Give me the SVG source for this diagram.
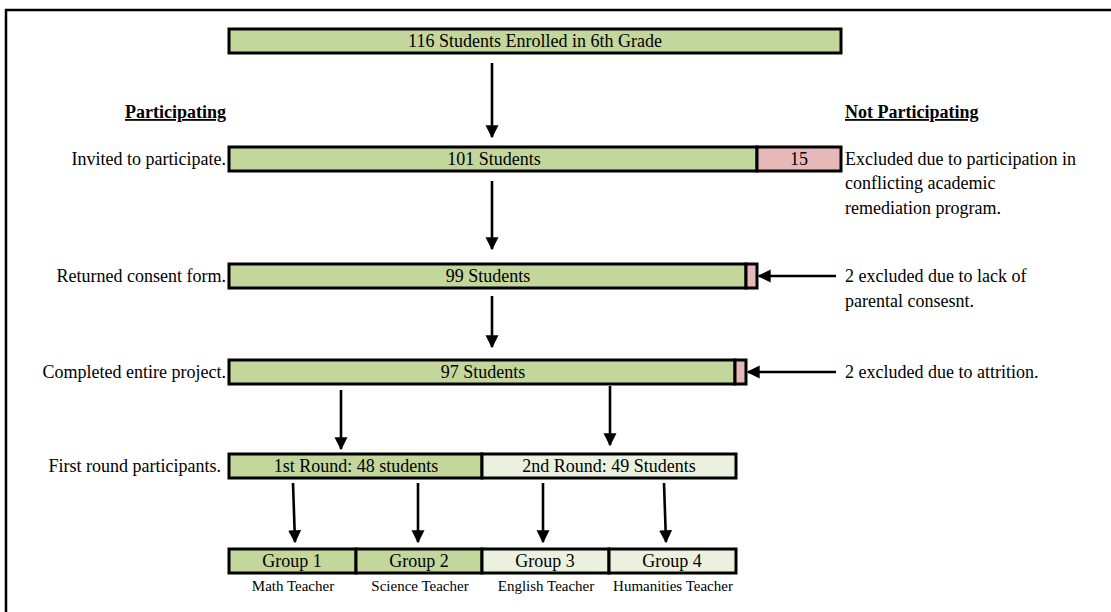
<svg xmlns="http://www.w3.org/2000/svg" width="1111" height="612" viewBox="0 0 1111 612">
<defs>
<style>
text{font-family:"Liberation Serif","Times New Roman",serif;font-size:18px;fill:#000}
.c{text-anchor:middle}
.r{text-anchor:end}
.s{font-size:15px}
.h{font-weight:bold;text-decoration:underline}
.box{stroke:#000;stroke-width:3}
.g{fill:#c3d69b}
.p{fill:#e6b9b8}
.l{fill:#ebf1de}
.ln{stroke:#000;stroke-width:2.6;fill:none}
</style>
<marker id="ah" viewBox="0 0 10 10" refX="9" refY="5" markerWidth="5" markerHeight="5.2" orient="auto" markerUnits="strokeWidth">
<path d="M0,0 L10,5 L0,10 z" fill="#000"/>
</marker>
</defs>
<rect width="1111" height="612" fill="#fff"/>
<g id="frame">
<path d="M6,612 V10 H1111" stroke="#000" stroke-width="2.5" fill="none"/>
</g>
<g id="headers">
<text class="r h" x="226" y="118">Participating</text>
<text class="h" x="845" y="118">Not Participating</text>
</g>
<g id="enrolled">
<rect class="box g" x="229" y="29" width="612" height="24"/>
<text class="c" x="535" y="47">116 Students Enrolled in 6th Grade</text>
</g>
<g id="invited">
<text class="r" x="226" y="165">Invited to participate.</text>
<rect class="box g" x="229" y="147" width="528" height="24"/>
<rect class="box p" x="757" y="147" width="84" height="24"/>
<text class="c" x="494" y="165">101 Students</text>
<text class="c" x="799" y="165">15</text>
<text x="845" y="165">Excluded due to participation in</text>
<text x="845" y="189">conflicting academic</text>
<text x="845" y="214">remediation program.</text>
</g>
<g id="consent">
<text class="r" x="226" y="282">Returned consent form.</text>
<rect class="box g" x="229" y="264" width="517" height="24"/>
<rect class="box p" x="746" y="264" width="11" height="24"/>
<text class="c" x="488" y="282">99 Students</text>
<text x="845" y="282">2 excluded due to lack of</text>
<text x="845" y="307">parental consesnt.</text>
</g>
<g id="completed">
<text class="r" x="226" y="378">Completed entire project.</text>
<rect class="box g" x="229" y="360" width="506" height="24"/>
<rect class="box p" x="735" y="360" width="11" height="24"/>
<text class="c" x="483" y="378">97 Students</text>
<text x="845" y="378">2 excluded due to attrition.</text>
</g>
<g id="rounds">
<text class="r" x="221" y="472">First round participants.</text>
<rect class="box g" x="229" y="454" width="253" height="24"/>
<rect class="box l" x="482" y="454" width="254" height="24"/>
<text class="c" x="356" y="472">1st Round: 48 students</text>
<text class="c" x="609" y="472">2nd Round: 49 Students</text>
</g>
<g id="group1">
<rect class="box g" x="229" y="549" width="127" height="24"/>
<text class="c" x="292" y="567">Group 1</text>
<text class="c s" x="293" y="591">Math Teacher</text>
</g>
<g id="group2">
<rect class="box g" x="356" y="549" width="126" height="24"/>
<text class="c" x="419" y="567">Group 2</text>
<text class="c s" x="420" y="591">Science Teacher</text>
</g>
<g id="group3">
<rect class="box l" x="482" y="549" width="127" height="24"/>
<text class="c" x="545" y="567">Group 3</text>
<text class="c s" x="546" y="591">English Teacher</text>
</g>
<g id="group4">
<rect class="box l" x="609" y="549" width="127" height="24"/>
<text class="c" x="672" y="567">Group 4</text>
<text class="c s" x="673" y="591">Humanities Teacher</text>
</g>
<g id="connectors">
<line class="ln" x1="492" y1="63" x2="492" y2="137" marker-end="url(#ah)"/>
<line class="ln" x1="492" y1="181" x2="492" y2="249" marker-end="url(#ah)"/>
<line class="ln" x1="492" y1="296" x2="492" y2="347" marker-end="url(#ah)"/>
<line class="ln" x1="836" y1="276" x2="759" y2="276" marker-end="url(#ah)"/>
<line class="ln" x1="836" y1="372" x2="748" y2="372" marker-end="url(#ah)"/>
<line class="ln" x1="341" y1="390" x2="341" y2="449" marker-end="url(#ah)"/>
<line class="ln" x1="610" y1="386" x2="610" y2="445" marker-end="url(#ah)"/>
<line class="ln" x1="293" y1="483" x2="295" y2="542" marker-end="url(#ah)"/>
<line class="ln" x1="418" y1="483" x2="418" y2="542" marker-end="url(#ah)"/>
<line class="ln" x1="543" y1="483" x2="543" y2="542" marker-end="url(#ah)"/>
<line class="ln" x1="664" y1="483" x2="666" y2="542" marker-end="url(#ah)"/>
</g>
</svg>
